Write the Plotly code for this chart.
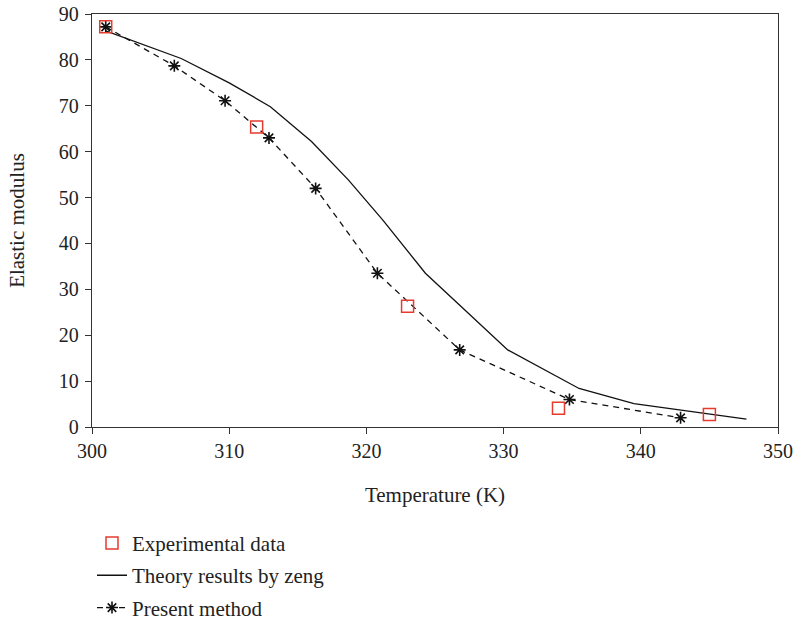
import plotly.graph_objects as go

# Experimental data
exp_x = [301, 312, 323, 334, 345]
exp_y = [87.2, 65.4, 26.3, 4.1, 2.7]

# Theory results by zeng
theory_x = [301, 306.5, 310, 313, 316, 318.7, 321.2, 324.3, 327, 330.3, 335.5, 339.5, 347.7]
theory_y = [86.3, 80.3, 75.0, 69.8, 62.2, 53.8, 45.1, 33.5, 26.0, 16.8, 8.4, 5.1, 1.7]

# Present method
present_x = [301, 306.0, 309.7, 312.9, 316.3, 320.8, 326.8, 334.8, 342.9]
present_y = [87.2, 78.7, 71.1, 63.0, 52.0, 33.5, 16.8, 6.0, 2.0]

x_ticks = [300, 310, 320, 330, 340, 350]
y_ticks = [0, 10, 20, 30, 40, 50, 60, 70, 80, 90]

FONT = "Liberation Serif"
TXT = "#222222"

fig = go.Figure()
fig.add_trace(go.Scatter(
    x=theory_x, y=theory_y, mode="lines", name="Theory results by zeng",
    line=dict(color="#111111", width=1.3), legendgroup="b", legendrank=2))
fig.add_trace(go.Scatter(
    x=present_x, y=present_y, mode="lines+markers", name="Present method",
    line=dict(color="#111111", width=1.3, dash="6px,5px"),
    marker=dict(symbol="asterisk-open", size=10, color="#111111",
                line=dict(color="#111111", width=1.6)),
    legendgroup="c", legendrank=3))
fig.add_trace(go.Scatter(
    x=exp_x, y=exp_y, mode="markers", name="Experimental data",
    marker=dict(symbol="square-open", size=12, color="#e53a2e",
                line=dict(color="#e53a2e", width=1.5)),
    legendgroup="a", legendrank=1))

axis_common = dict(
    showline=True, linecolor="#333333", linewidth=1.3, mirror=True,
    ticks="outside", ticklen=6, tickwidth=1.2, tickcolor="#333333",
    showgrid=False, zeroline=False, automargin=False,
    tickfont=dict(family=FONT, size=20, color=TXT),
)

fig.update_xaxes(range=[300, 350], tickvals=x_ticks,
                 title=dict(text="Temperature (K)", font=dict(family=FONT, size=21, color=TXT),
                            standoff=26),
                 **axis_common)
fig.update_yaxes(range=[0, 90], tickvals=y_ticks, ticklabelstandoff=2,
                 title=dict(text="Elastic modulus", font=dict(family=FONT, size=21, color=TXT),
                            standoff=28),
                 **axis_common)

fig.update_layout(
    width=793, height=627,
    margin=dict(l=92, r=15, t=14, b=200, autoexpand=False),
    paper_bgcolor="white", plot_bgcolor="white",
    font=dict(family=FONT, size=21, color=TXT),
    showlegend=True,
    legend=dict(x=0.0, y=-0.232, xanchor="left", yanchor="top",
                orientation="v", traceorder="grouped", tracegroupgap=2,
                font=dict(family=FONT, size=21, color=TXT),
                bgcolor="rgba(0,0,0,0)", itemwidth=30),
)

# remove the page's default body margin so the figure fills the window
fig.write_html("out.html",
               config={"displayModeBar": False},
               post_script="document.body.style.margin='0px';document.body.style.overflow='hidden';")
